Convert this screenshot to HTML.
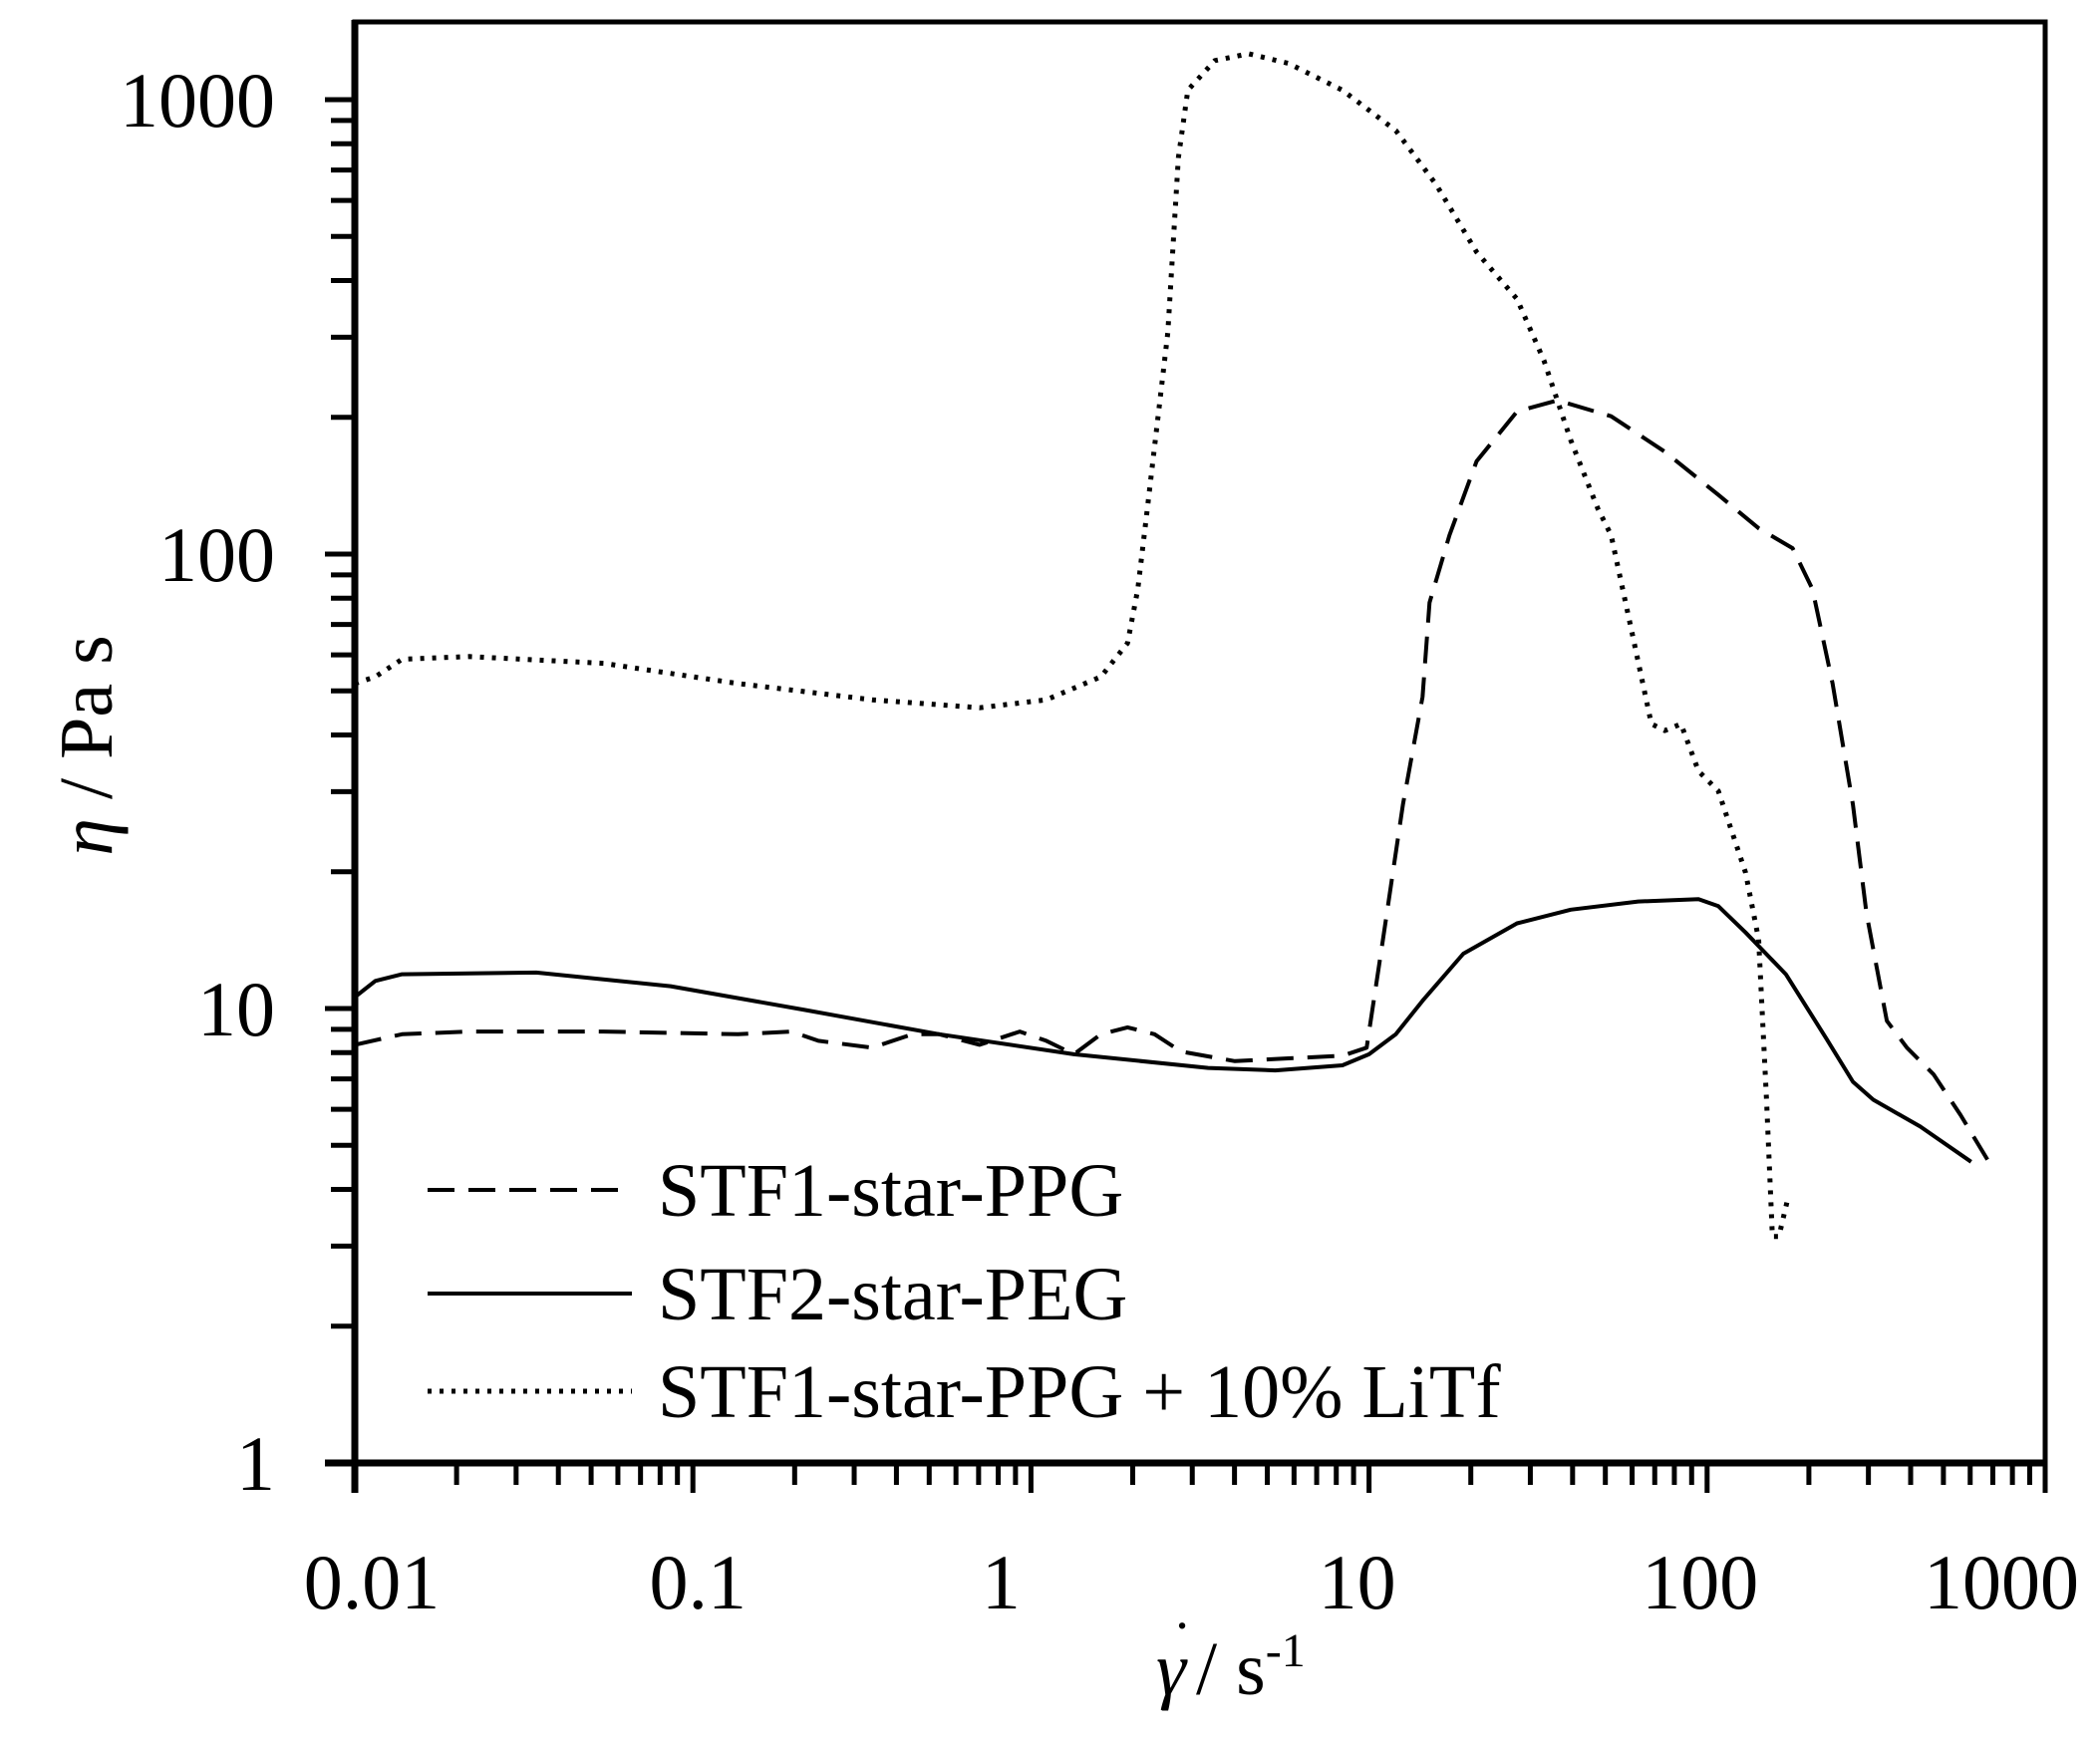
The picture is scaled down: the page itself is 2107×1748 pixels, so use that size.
<!DOCTYPE html>
<html><head><meta charset="utf-8"><style>
html,body{margin:0;padding:0;background:#fff;}
svg{display:block;}
text{font-family:"Liberation Serif",serif;fill:#000;}
</style></head><body>
<svg id="chart" width="2107" height="1748" viewBox="0 0 2107 1748" xmlns="http://www.w3.org/2000/svg">
<rect x="0" y="0" width="2107" height="1748" fill="#fff"/>
<g id="series"></g>
<g id="axes"></g>
<g id="legend">
  <line x1="429" y1="1194" x2="634" y2="1194" stroke="#000" stroke-width="4" stroke-dasharray="27,14"/>
  <text x="660" y="1220" font-size="76">STF1-star-PPG</text>
  <line x1="429" y1="1298" x2="634" y2="1298" stroke="#000" stroke-width="4"/>
  <text x="660" y="1324" font-size="76">STF2-star-PEG</text>
  <line x1="429" y1="1396" x2="634" y2="1396" stroke="#000" stroke-width="5" stroke-dasharray="4,8"/>
  <text x="660" y="1422" font-size="76">STF1-star-PPG + 10% LiTf</text>
</g>
<g>
  <text x="1160" y="1700" font-size="76" font-style="italic">γ</text>
  <text x="1176" y="1668" font-size="60">˙</text>
  <text x="1200" y="1700" font-size="76">/ s<tspan font-size="48" dy="-28">-1</tspan></text>
</g>
<text transform="translate(112,748) rotate(-90)" font-size="76" text-anchor="middle"><tspan font-style="italic">η</tspan> / Pa s</text>
</svg>
<script>
const xTickValues = [0.01, 0.1, 1, 10, 100, 1000];
const xTickLabels = ["0.01", "0.1", "1", "10", "100", "1000"];
const yTickValues = [1, 10, 100, 1000];
const yTickLabels = ["1", "10", "100", "1000"];

const stf1X = [0.01,0.0138,0.0218,0.0544,0.136,0.196,0.235,0.339,0.446,0.535,0.705,0.927,1.11,1.34,1.61,1.93,2.32,2.78,4.01,5.78,8.34,9.84,11.0,12.6,14.4,15.1,17.3,20.8,27.4,36.1,52.0,75.0,108,142,179,205,235,270,296,340,390,468,562,693];
const stf1Y = [8.32,8.78,8.90,8.90,8.78,8.90,8.49,8.20,8.78,8.78,8.32,8.90,8.49,7.93,8.78,9.09,8.78,8.04,7.66,7.77,7.87,8.20,14.2,28.1,48.5,78.2,110,160,206,218,201,168,135,114,103,83.7,51.9,28.1,16.2,9.40,8.20,7.16,5.83,4.50];

const stf2X = [0.01,0.0115,0.0138,0.0344,0.0859,0.214,0.535,1.34,3.34,5.28,8.34,10.0,12.0,14.4,19.0,27.4,39.5,62.5,94.3,108,130,171,225,270,310,427,604];
const stf2Y = [10.6,11.5,11.9,12.0,11.2,9.93,8.78,7.93,7.40,7.31,7.50,7.93,8.78,10.4,13.2,15.4,16.5,17.2,17.4,16.8,14.7,11.9,8.6,6.9,6.3,5.5,4.6];

const litfX = [0.01,0.0115,0.0138,0.0218,0.0544,0.136,0.339,0.705,1.11,1.61,1.93,2.07,2.21,2.54,2.73,2.91,3.50,4.40,5.78,8.34,12.0,15.8,20.8,27.4,32.9,39.5,47.5,52.0,59.7,68.4,75.0,83.7,94.3,108,130,142,150,156,163,174];
const litfY = [51.9,53.7,58.7,59.5,57.5,51.9,47.8,45.9,47.8,53.7,63.7,83.7,126,307,745,1049,1219,1262,1202,1049,855,650,462,364,267,178,126,110,68.2,42.3,40.9,42.3,33.3,30.1,19.9,14.2,6.24,3.15,3.15,3.87];

const L = 356, R = 2052, T = 22, B = 1468;
const XDEC = (R - L) / 5, YDEC = 456;
const xLabelShift = [17, 5, -30, -12, -7, -44];
function xScale(v){ return L + (Math.log10(v) + 2) * XDEC; }
function yScale(v){ return B - Math.log10(v) * YDEC; }
const NS = "http://www.w3.org/2000/svg";
const axes = document.getElementById("axes");
const series = document.getElementById("series");

function mk(tag, attrs, parent){
  const e = document.createElementNS(NS, tag);
  for (const k in attrs) e.setAttribute(k, attrs[k]);
  parent.appendChild(e);
  return e;
}

function drawSeries(xs, ys, name, dash, width){
  let d = "";
  for (let i = 0; i < xs.length; i++) d += (i ? "L" : "M") + xScale(xs[i]).toFixed(1) + "," + yScale(ys[i]).toFixed(1);
  const p = mk("path", {d: d, fill: "none", stroke: "#000", "stroke-width": width, "stroke-linejoin": "round"}, series);
  if (dash) p.setAttribute("stroke-dasharray", dash);
  
  
}
drawSeries(stf1X, stf1Y, "series-stf1-star-ppg", "27,14", 4);
drawSeries(stf2X, stf2Y, "series-stf2-star-peg", null, 4);
drawSeries(litfX, litfY, "series-stf1-star-ppg-litf", "4,8", 5);

const frame = mk("rect", {x: L, y: T, width: R - L, height: B - T, fill: "none", stroke: "#000", "stroke-width": 5}, axes);


const xa = mk("line", {x1: L - 30, y1: B, x2: R + 2, y2: B, stroke: "#000", "stroke-width": 7}, axes);


const ya = mk("line", {x1: L, y1: T - 2, x2: L, y2: B + 30, stroke: "#000", "stroke-width": 7}, axes);



for (let i = 0; i < xTickValues.length; i++){
  const v = xTickValues[i];
  const t = mk("line", {x1: xScale(v), y1: B, x2: xScale(v), y2: B + 30, stroke: "#000", "stroke-width": 5}, axes);
  
  
  const lb = mk("text", {x: xScale(v) + xLabelShift[i], y: 1614, "font-size": 78, "text-anchor": "middle"}, axes);
  lb.textContent = xTickLabels[i];
  
  
  if (i < xTickValues.length - 1){
    for (let m = 2; m <= 9; m++){
      const mt = mk("line", {x1: xScale(v * m), y1: B, x2: xScale(v * m), y2: B + 22, stroke: "#000", "stroke-width": 5}, axes);
      
      
    }
  }
}
for (let i = 0; i < yTickValues.length; i++){
  const v = yTickValues[i];
  const t = mk("line", {x1: L - 30, y1: yScale(v), x2: L, y2: yScale(v), stroke: "#000", "stroke-width": 5}, axes);
  
  
  const lb = mk("text", {x: 276, y: yScale(v) + 27, "font-size": 78, "text-anchor": "end"}, axes);
  lb.textContent = yTickLabels[i];
  
  
  if (i < yTickValues.length - 1){
    for (let m = 2; m <= 9; m++){
      const mt = mk("line", {x1: L - 24, y1: yScale(v * m), x2: L, y2: yScale(v * m), stroke: "#000", "stroke-width": 5}, axes);
      
      
    }
  }
}
</script>
</body></html>
